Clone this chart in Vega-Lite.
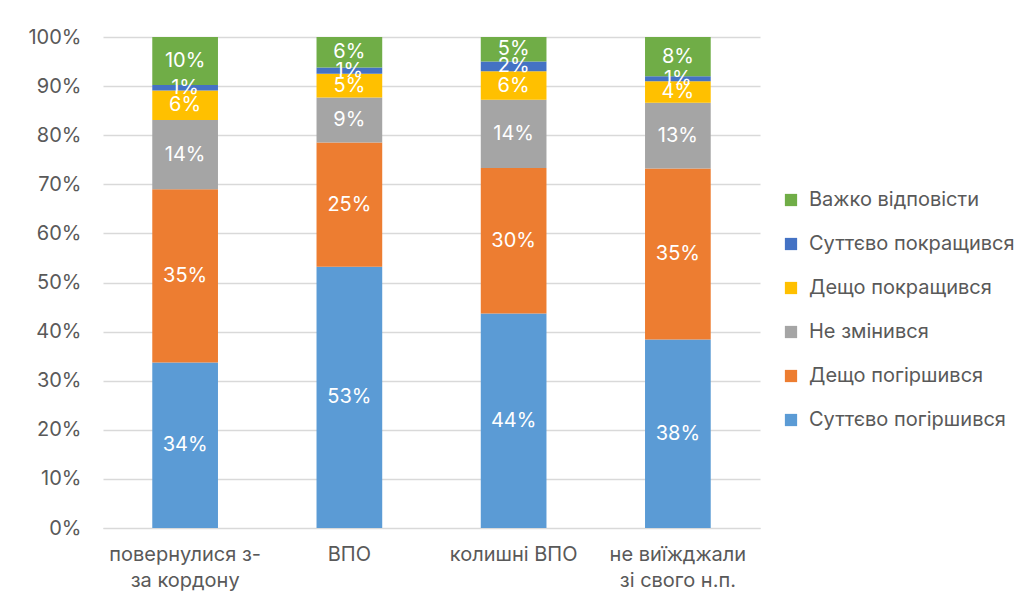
{
  "$schema": "https://vega.github.io/schema/vega-lite/v6.json",
  "width": 657,
  "height": 491,
  "autosize": {"type": "none"},
  "padding": {"left": 103, "top": 37, "right": 276, "bottom": 85},
  "background": "white",
  "config": {
    "font": "Inter",
    "view": {"stroke": null},
    "axis": {"labelColor": "#595959", "labelFontSize": 20, "labelFont": "Inter", "labelOverlap": false}
  },
  "data": {
    "values": [
      {"cat": "повернулися з-за кордону", "resp": "Суттєво погіршився", "o": 1, "v": 0.337},
      {"cat": "повернулися з-за кордону", "resp": "Дещо погіршився", "o": 2, "v": 0.353},
      {"cat": "повернулися з-за кордону", "resp": "Не змінився", "o": 3, "v": 0.141},
      {"cat": "повернулися з-за кордону", "resp": "Дещо покращився", "o": 4, "v": 0.060},
      {"cat": "повернулися з-за кордону", "resp": "Суттєво покращився", "o": 5, "v": 0.011},
      {"cat": "повернулися з-за кордону", "resp": "Важко відповісти", "o": 6, "v": 0.098},
      {"cat": "ВПО", "resp": "Суттєво погіршився", "o": 1, "v": 0.532},
      {"cat": "ВПО", "resp": "Дещо погіршився", "o": 2, "v": 0.253},
      {"cat": "ВПО", "resp": "Не змінився", "o": 3, "v": 0.092},
      {"cat": "ВПО", "resp": "Дещо покращився", "o": 4, "v": 0.048},
      {"cat": "ВПО", "resp": "Суттєво покращився", "o": 5, "v": 0.013},
      {"cat": "ВПО", "resp": "Важко відповісти", "o": 6, "v": 0.062},
      {"cat": "колишні ВПО", "resp": "Суттєво погіршився", "o": 1, "v": 0.437},
      {"cat": "колишні ВПО", "resp": "Дещо погіршився", "o": 2, "v": 0.296},
      {"cat": "колишні ВПО", "resp": "Не змінився", "o": 3, "v": 0.139},
      {"cat": "колишні ВПО", "resp": "Дещо покращився", "o": 4, "v": 0.058},
      {"cat": "колишні ВПО", "resp": "Суттєво покращився", "o": 5, "v": 0.020},
      {"cat": "колишні ВПО", "resp": "Важко відповісти", "o": 6, "v": 0.050},
      {"cat": "не виїжджали зі свого н.п.", "resp": "Суттєво погіршився", "o": 1, "v": 0.384},
      {"cat": "не виїжджали зі свого н.п.", "resp": "Дещо погіршився", "o": 2, "v": 0.348},
      {"cat": "не виїжджали зі свого н.п.", "resp": "Не змінився", "o": 3, "v": 0.134},
      {"cat": "не виїжджали зі свого н.п.", "resp": "Дещо покращився", "o": 4, "v": 0.044},
      {"cat": "не виїжджали зі свого н.п.", "resp": "Суттєво покращився", "o": 5, "v": 0.010},
      {"cat": "не виїжджали зі свого н.п.", "resp": "Важко відповісти", "o": 6, "v": 0.080}
    ]
  },
  "transform": [
    {"stack": "v", "groupby": ["cat"], "sort": [{"field": "o", "order": "ascending"}], "as": ["y0", "y1"]},
    {"calculate": "(datum.y0 + datum.y1) / 2", "as": "ym"}
  ],
  "encoding": {
    "x": {
      "field": "cat",
      "type": "nominal",
      "sort": ["повернулися з-за кордону", "ВПО", "колишні ВПО", "не виїжджали зі свого н.п."],
      "scale": {"paddingInner": 0.6, "paddingOuter": 0.3},
      "axis": {
        "title": null,
        "labelAngle": 0,
        "ticks": false,
        "domain": true,
        "domainColor": "#D9D9D9",
        "labelPadding": 16,
        "labelLineHeight": 26,
        "labelExpr": "datum.value == 'повернулися з-за кордону' ? ['повернулися з-', 'за кордону'] : datum.value == 'не виїжджали зі свого н.п.' ? ['не виїжджали', 'зі свого н.п.'] : datum.value"
      }
    }
  },
  "layer": [
    {
      "mark": {"type": "bar"},
      "encoding": {
        "y": {
          "field": "y0",
          "type": "quantitative",
          "scale": {"domain": [0, 1]},
          "axis": {
            "title": null,
            "format": ".0%",
            "values": [0, 0.1, 0.2, 0.3, 0.4, 0.5, 0.6, 0.7, 0.8, 0.9, 1],
            "domain": false,
            "ticks": false,
            "labelPadding": 22,
            "gridColor": "#D9D9D9",
            "gridWidth": 1.3
          }
        },
        "y2": {"field": "y1"},
        "color": {
          "field": "resp",
          "type": "nominal",
          "scale": {
            "domain": ["Важко відповісти", "Суттєво покращився", "Дещо покращився", "Не змінився", "Дещо погіршився", "Суттєво погіршився"],
            "range": ["#70AD47", "#4472C4", "#FFC000", "#A5A5A5", "#ED7D31", "#5B9BD5"]
          },
          "legend": {
            "title": null,
            "orient": "none",
            "legendX": 678,
            "legendY": 153,
            "symbolType": "square",
            "symbolSize": 150,
            "symbolStrokeWidth": 0,
            "labelFontSize": 20,
            "labelColor": "#595959",
            "labelFont": "Inter",
            "rowPadding": 24,
            "labelOffset": 8,
            "labelLimit": 300
          }
        }
      }
    },
    {
      "mark": {"type": "text", "color": "white", "fontSize": 20, "font": "Inter", "baseline": "middle"},
      "encoding": {
        "y": {
          "field": "ym",
          "type": "quantitative",
          "axis": {
            "title": null,
            "format": ".0%",
            "values": [0, 0.1, 0.2, 0.3, 0.4, 0.5, 0.6, 0.7, 0.8, 0.9, 1],
            "domain": false,
            "ticks": false,
            "labelPadding": 22,
            "gridColor": "#D9D9D9",
            "gridWidth": 1.3
          }
        },
        "text": {"field": "v", "type": "quantitative", "format": ".0%"}
      }
    }
  ]
}
